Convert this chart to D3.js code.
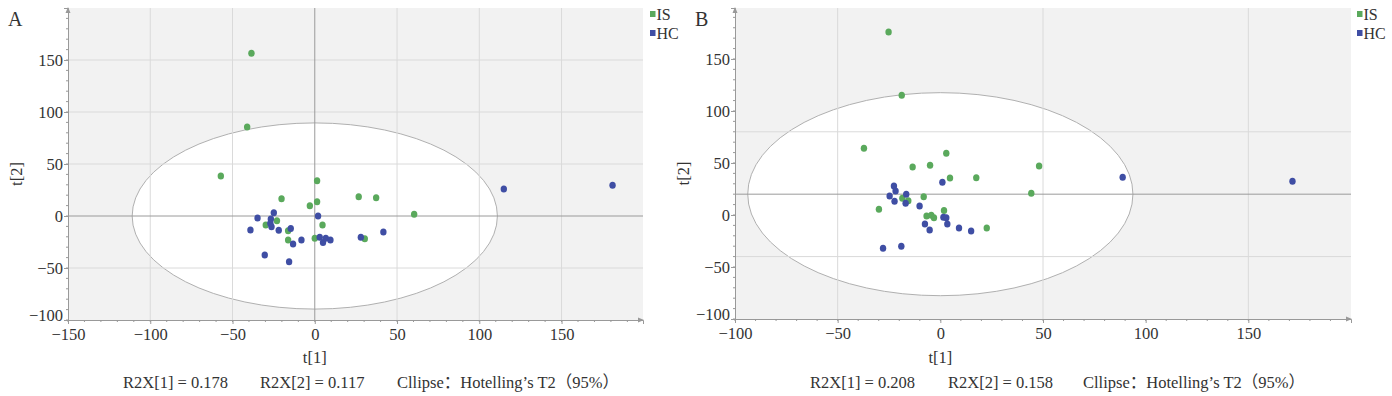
<!DOCTYPE html>
<html>
<head>
<meta charset="utf-8">
<script src="https://cdn.jsdelivr.net/npm/d3@7"></script>
<style>
  body { margin: 0; background: #fff; }
  text { font-family: "Liberation Serif", "DejaVu Serif", "Noto Sans CJK SC", serif; fill: #333; }
</style>
</head>
<body>
<div id="chart"></div>
<script>
// score points, [t1, t2]
var isA = [[1.4, 34], [-20.2, 16.6], [1.4, 13.8], [-3, 9.9], [26.7, 18.6], [37.3, 17.6], [60.4, 1.6],
  [-23, -4.5], [-29.8, -8.7], [4.7, -8.7], [-16.2, -14.1], [-16.2, -23], [0, -21.5], [30.4, -21.8],
  [-38.5, 156.4], [-41.1, 85.6], [-57.1, 38.5]];
var hcA = [[-24.9, 3.2], [-34.8, -1.9], [-26.7, -2.9], [2, 0], [-39.1, -13.5], [-26.3, -10.3],
  [-27, -7], [-21.9, -13.8], [-14.6, -11.9], [-13.2, -26.9], [-8.1, -23.1], [3, -20.5], [5, -25.6],
  [6.7, -21.5], [9.5, -23.1], [28, -20.5], [41.7, -15.4], [-30.4, -37.5], [-15.6, -43.9],
  [114.9, 26], [181, 29.5]];
var isB = [[-37.2, 64.1], [2.9, 59.3], [-13.5, 46.2], [-5, 47.8], [48.1, 47.1], [4.7, 35.6],
  [17.5, 35.9], [44.3, 20.8], [-18.5, 16], [-15.6, 13.8], [-8.1, 17.6], [-29.9, 5.5], [1.8, 4.2],
  [-6.7, -1], [-4.4, -0.3], [-3.1, -2.6], [22.6, -12.5], [-25.2, 176], [-18.8, 115.1]];
var hcB = [[-22.6, 27.9], [-21.8, 23.1], [-24.7, 18.3], [-22.3, 13.2], [-16.6, 19.9], [-16.9, 11.2],
  [1, 31.4], [-10.1, 8.7], [1.5, -2.2], [2.9, -2.6], [3.4, -8.7], [-7.5, -8.7], [-5.2, -14.4],
  [9.1, -12.5], [15, -15.4], [-27.9, -32], [-19, -30.1], [88.8, 36.3], [171.5, 32.4]];

var groups = ["IS", "HC"];
var colors = ["#5aa95c", "#3f4ea4"];

var ticksAx = [-150, -100, -50, 0, 50, 100, 150];
var ticksBx = [-100, -50, 0, 50, 100, 150];
var ticksY = [-100, -50, 0, 50, 100, 150];

// grid lines and Hotelling ellipse [cx, cy, rx, ry]
var gridAx = [-100, -50, 50, 100, 150], gridAy = [-50, 50, 100, 150];
var gridBx = [-50, 50, 150], gridBy = [80, -40];
var centerA = [0, 0], centerB = [null, 20];
var ellipseA = [0, 0, 111, 89.5];
var ellipseB = [0, 20, 93.8, 97.6];

var statsA = ["R2X[1] = 0.178", "R2X[2] = 0.117", "Cllipse：Hotelling’s T2（95%）"];
var statsB = ["R2X[1] = 0.208", "R2X[2] = 0.158", "Cllipse：Hotelling’s T2（95%）"];

var svg = d3.select("#chart").append("svg")
  .attr("width", 1392)
  .attr("height", 396);

function drawPanel(p) {
  var x = d3.scaleLinear().domain(p.xDomain).range([p.left, p.right]);
  var y = d3.scaleLinear().domain(p.yDomain).range([p.bottom, p.top]);
  var g = svg.append("g");

  // plot background
  g.append("rect")
    .attr("x", p.left).attr("y", p.top)
    .attr("width", p.right - p.left).attr("height", p.bottom - p.top)
    .attr("fill", "#f2f2f2");

  var e = p.ellipse;
  g.append("ellipse")
    .attr("cx", x(e[0])).attr("cy", y(e[1]))
    .attr("rx", x(e[2]) - x(0)).attr("ry", y(0) - y(e[3]))
    .attr("fill", "#fff")
    .attr("stroke", "#b0b0b0")
    .attr("stroke-width", 1);

  // grid
  g.selectAll(".gx").data(p.gridX).enter().append("line")
    .attr("x1", d => x(d)).attr("x2", d => x(d))
    .attr("y1", p.top).attr("y2", p.bottom)
    .attr("stroke", "#dadada");
  g.selectAll(".gy").data(p.gridY).enter().append("line")
    .attr("x1", p.left).attr("x2", p.right)
    .attr("y1", d => y(d)).attr("y2", d => y(d))
    .attr("stroke", "#dadada");
  if (p.center[0] !== null) {
    g.append("line")
      .attr("x1", x(p.center[0])).attr("x2", x(p.center[0]))
      .attr("y1", p.top).attr("y2", p.bottom)
      .attr("stroke", "#9a9a9a");
  }
  g.append("line")
    .attr("x1", p.left).attr("x2", p.right)
    .attr("y1", y(p.center[1])).attr("y2", y(p.center[1]))
    .attr("stroke", "#9a9a9a");

  // axes
  var xMinor = d3.range(p.xDomain[0], p.xDomain[1], 10);
  var yMinor = d3.range(p.yDomain[0], p.yDomain[1], 10);
  var bottomAxis = d3.axisBottom(x).tickValues(p.xTicks).tickSize(4).tickPadding(1)
    .tickFormat(d3.format("d"));
  var leftAxis = d3.axisLeft(y).tickValues(ticksY).tickSize(4).tickPadding(1)
    .tickFormat(d3.format("d"));

  var xAxis = g.append("g")
    .attr("transform", `translate(0, ${p.bottom})`)
    .call(bottomAxis);
  xAxis.append("g").selectAll("line").data(xMinor).enter().append("line")
    .attr("x1", d => x(d)).attr("x2", d => x(d)).attr("y1", 0).attr("y2", 2)
    .attr("stroke", "#999");
  var yAxis = g.append("g")
    .attr("transform", `translate(${p.left}, 0)`)
    .call(leftAxis);
  yAxis.append("g").selectAll("line").data(yMinor).enter().append("line")
    .attr("x1", 0).attr("x2", -2).attr("y1", d => y(d)).attr("y2", d => y(d))
    .attr("stroke", "#999");

  [xAxis, yAxis].forEach(function(a) {
    a.select(".domain").attr("stroke", "#999");
    a.selectAll(".tick line").attr("stroke", "#999");
    a.selectAll("text")
      .style("font-family", "'Liberation Serif', 'DejaVu Serif', serif")
      .style("font-size", "16.5px")
      .attr("fill", "#333");
  });
  xAxis.selectAll(".tick text").attr("dy", "0.9em");
  // lowest y label sits just above the first x label, as in the original
  yAxis.selectAll(".tick text").filter(d => d === -100).attr("dy", "0.05em");

  // axis arrows
  g.append("path")
    .attr("d", `M${p.right - 5},${p.bottom - 2.5} L${p.right + 1},${p.bottom} L${p.right - 5},${p.bottom + 2.5}Z`)
    .attr("fill", "#999");
  g.append("path")
    .attr("d", `M${p.left - 2.5},${p.top + 5} L${p.left},${p.top - 1} L${p.left + 2.5},${p.top + 5}Z`)
    .attr("fill", "#999");

  // points
  [p.is, p.hc].forEach(function(pts, i) {
    g.selectAll(".pt" + i).data(pts).enter().append("ellipse")
      .attr("cx", d => x(d[0]))
      .attr("cy", d => y(d[1]))
      .attr("rx", 3.2)
      .attr("ry", 3.5)
      .attr("fill", colors[i]);
  });

  // legend
  groups.forEach(function(name, i) {
    g.append("rect")
      .attr("x", p.legendX).attr("y", 11 + i * 19)
      .attr("width", 5.5).attr("height", 6)
      .attr("fill", colors[i]);
    g.append("text")
      .attr("x", p.legendX + 6.5).attr("y", 20 + i * 19)
      .style("font-size", "16px")
      .text(name);
  });

  // panel letter and axis titles
  g.append("text")
    .attr("x", p.letterX).attr("y", 26)
    .style("font-size", "20px")
    .text(p.letter);
  g.append("text")
    .attr("transform", `translate(${p.yTitleX}, ${(p.top + p.bottom) / 2 + 10}) rotate(-90)`)
    .attr("text-anchor", "middle")
    .style("font-size", "16.5px")
    .text("t[2]");
  g.append("text")
    .attr("x", x(0)).attr("y", 363)
    .attr("text-anchor", "middle")
    .style("font-size", "16.5px")
    .text("t[1]");

  p.stats.forEach(function(s, i) {
    g.append("text")
      .attr("x", p.statsX[i]).attr("y", 388)
      .style("font-size", "16.5px")
      .text(s);
  });
}

drawPanel({
  letter: "A", letterX: 8, yTitleX: 22,
  left: 68, right: 643, top: 8, bottom: 320,
  xDomain: [-150, 199.5], yDomain: [-100, 200],
  xTicks: ticksAx, gridX: gridAx, gridY: gridAy, center: centerA, ellipse: ellipseA,
  is: isA, hc: hcA, legendX: 650,
  stats: statsA, statsX: [123, 260, 397]
});

drawPanel({
  letter: "B", letterX: 695, yTitleX: 689,
  left: 735, right: 1351, top: 8, bottom: 319,
  xDomain: [-100, 200], yDomain: [-100, 199],
  xTicks: ticksBx, gridX: gridBx, gridY: gridBy, center: centerB, ellipse: ellipseB,
  is: isB, hc: hcB, legendX: 1357,
  stats: statsB, statsX: [810, 948, 1083]
});
</script>
</body>
</html>
